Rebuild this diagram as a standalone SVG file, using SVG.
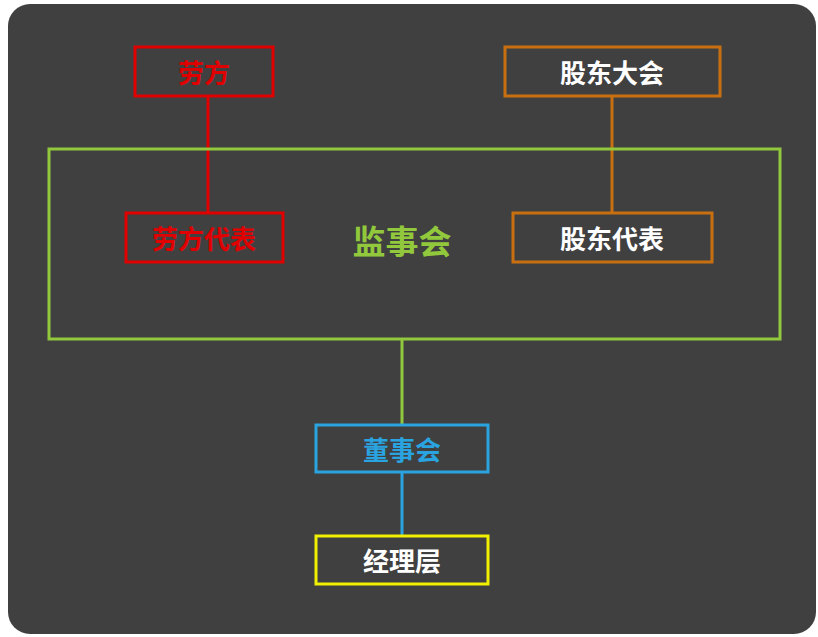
<svg xmlns="http://www.w3.org/2000/svg" width="818" height="637" viewBox="0 0 818 637">
<style>
.box{fill:none;stroke-width:3}
.t{font-family:"Noto Sans CJK SC",sans-serif;font-weight:bold;font-size:26px;text-anchor:middle;dominant-baseline:central}
.c{stroke-width:3;fill:none}
</style>
<rect width="818" height="637" fill="#ffffff"/>
<rect x="8" y="4" width="808" height="630" rx="22" fill="#404040"/>
<g id="connectors">
<line class="c" x1="208" y1="96" x2="208" y2="213" stroke="#e00000"/>
<line class="c" x1="612" y1="96" x2="612" y2="213" stroke="#c87010"/>
<line class="c" x1="402" y1="339" x2="402" y2="425" stroke="#92c83c"/>
<line class="c" x1="402" y1="472" x2="402" y2="536" stroke="#2aa4e0"/>
</g>
<g id="jianshihui"><rect class="box" x="49" y="149" width="731" height="190" stroke="#92c83c"/><text class="t" x="402" y="240" fill="#92c83c" style="font-size:33px">监事会</text></g>
<g id="laofang"><rect class="box" x="135" y="47" width="138" height="49" stroke="#e00000"/><text class="t" x="204" y="71" fill="#e00000">劳方</text></g>
<g id="gudongdahui"><rect class="box" x="505" y="47" width="215" height="49" stroke="#c87010"/><text class="t" x="612" y="71" fill="#ffffff">股东大会</text></g>
<g id="laofangdaibiao"><rect class="box" x="126" y="213" width="157" height="49" stroke="#e00000"/><text class="t" x="204" y="237" fill="#e00000">劳方代表</text></g>
<g id="gudongdaibiao"><rect class="box" x="513" y="213" width="199" height="49" stroke="#c87010"/><text class="t" x="612" y="237" fill="#ffffff">股东代表</text></g>
<g id="dongshihui"><rect class="box" x="316" y="425" width="172" height="47" stroke="#2aa4e0"/><text class="t" x="402" y="448" fill="#2aa4e0">董事会</text></g>
<g id="jinglieceng"><rect class="box" x="316" y="536" width="172" height="48" stroke="#f0f000"/><text class="t" x="402" y="559" fill="#ffffff">经理层</text></g>
</svg>
